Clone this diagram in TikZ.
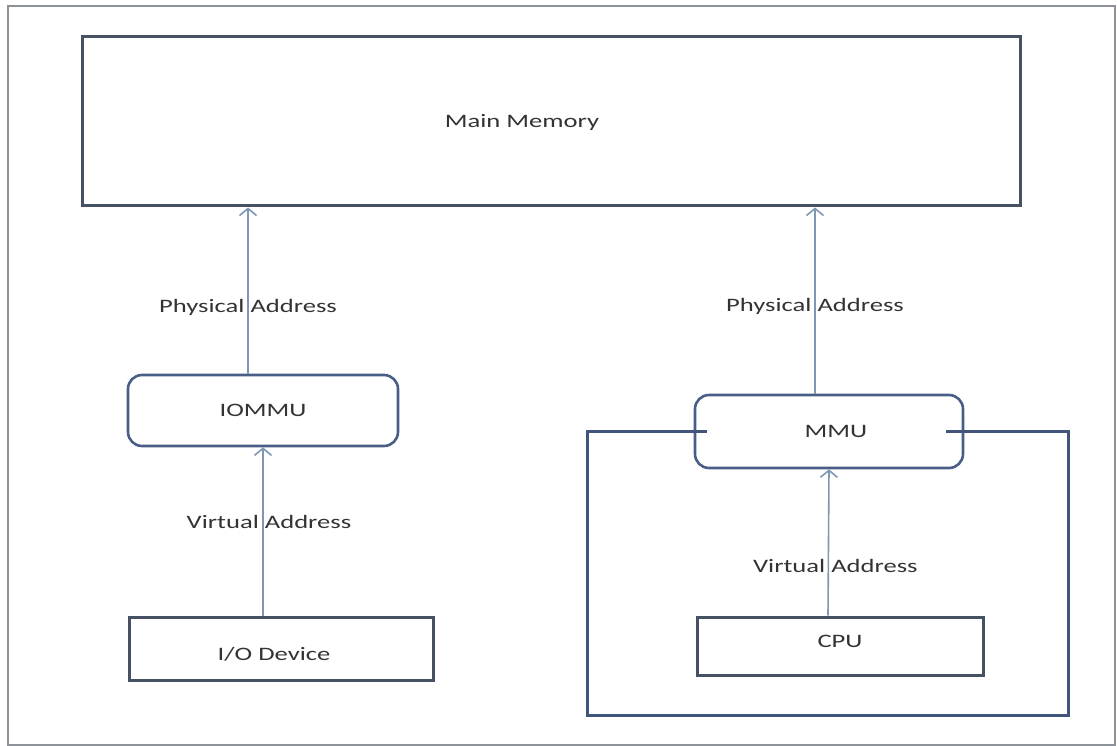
\documentclass[tikz,border=0pt]{standalone}
\usepackage{fontspec}
\usetikzlibrary{arrows.meta}
\newfontfamily\lblfont[FakeStretch=1.4]{Carlito}
\definecolor{frameGray}{HTML}{8C9298}
\definecolor{boxEdge}{HTML}{465264}
\definecolor{unitEdge}{HTML}{485E86}
\definecolor{encEdge}{HTML}{41547A}
\definecolor{arrowBlue}{HTML}{7F97B2}
\definecolor{txt}{HTML}{333333}
\tikzset{
  x=1pt, y=-1pt,
  lbl/.style={font=\lblfont\fontsize{19}{22}\selectfont, text=txt, inner sep=0pt},
  plainbox/.style={draw=boxEdge, line width=3pt, inner sep=0pt},
  unitbox/.style={draw=unitEdge, line width=2.6pt, rounded corners=14pt, inner sep=0pt},
  arr/.style={draw=arrowBlue, line width=1.6pt, -{Straight Barb[length=7pt,width=17pt,line width=1.6pt]}},
}
\begin{document}
\begin{tikzpicture}
  \useasboundingbox (0,0) rectangle (1117,746);
  % page frame
  \draw[frameGray, line width=1.6pt] (8,6) rectangle (1115,745);

  % boxes
  \node[plainbox, minimum width=938pt, minimum height=169pt] (mem) at (551,121.5) {};
  \node[lbl] (memtext) at (522,122) {Main Memory};

  \node[unitbox, minimum width=270pt, minimum height=71pt, lbl] (iommu) at (263,410.5) {IOMMU};
  \node[unitbox, minimum width=268pt, minimum height=73pt, lbl] (mmu) at (829,431.5) {\hspace*{14pt}MMU};

  \node[plainbox, minimum width=304pt, minimum height=63pt] (io) at (281,648.5) {};
  \node[lbl] (iotext) at (274,654) {I/O Device};

  \node[plainbox, minimum width=286pt, minimum height=58pt] (cpu) at (840,646) {};
  \node[lbl] (cputext) at (840,641) {CPU};

  % enclosure around MMU and CPU
  \draw[encEdge, line width=3pt]
    ([xshift=13pt]mmu.west) -- (587,431.5) -- (587,715) -- (1068,715) -- (1068,431.5) -- ([xshift=-18pt]mmu.east);

  % address paths
  \draw[arr] ([xshift=-15pt]iommu.north) -- ([xshift=-15pt]iommu.north |- mem.south)
    node[lbl, pos=0.4] {Physical Address};
  \draw[arr] ([xshift=-18pt]io.north) -- (iommu.south)
    node[lbl, pos=0.556, xshift=6pt] {Virtual Address};
  \draw[arr] ([xshift=-14pt]mmu.north) -- ([xshift=-14pt]mmu.north |- mem.south)
    node[lbl, pos=0.466] {Physical Address};
  \draw[arr] ([xshift=-12pt]cpu.north) -- (mmu.south)
    node[lbl, pos=0.336, xshift=7pt] {Virtual Address};
\end{tikzpicture}
\end{document}
